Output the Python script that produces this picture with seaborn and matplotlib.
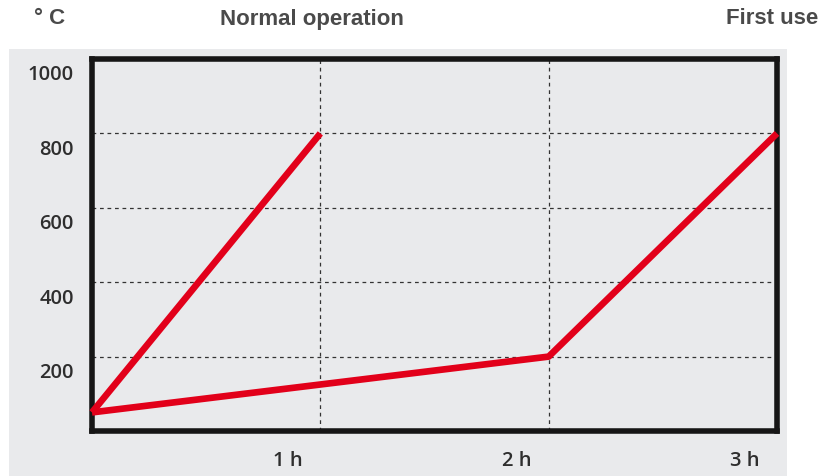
import matplotlib
matplotlib.use("Agg")
import matplotlib.pyplot as plt
import matplotlib.transforms as mtransforms
from matplotlib.patches import Rectangle
import seaborn as sns
import pandas as pd

# Дані
normal_hours = [0, 1]
normal_temp = [50, 800]
first_hours = [0, 2, 3]
first_temp = [50, 200, 800]
y_ticks = [200, 400, 600, 800, 1000]
x_ticks = [1, 2, 3]
x_labels = ["1 h", "2 h", "3 h"]

sns.set_style("white")
plt.rcParams["font.family"] = ["Open Sans", "DejaVu Sans"]

W, H = 825, 477
fig = plt.figure(figsize=(W / 100, H / 100), dpi=100)
fig.patch.set_facecolor("white")

# сіра підкладка
fig.patches.append(Rectangle((9 / W, 0), (787 - 9) / W, (H - 50) / H,
                             transform=fig.transFigure, facecolor="#e9eaec",
                             edgecolor="none", zorder=0))

ax = fig.add_axes([92 / W, (H - 432) / H, (777 - 92) / W, (432 - 60) / H])
ax.set_zorder(2)
ax.set_facecolor("#e9eaec")

normal = pd.DataFrame({"h": normal_hours, "t": normal_temp})
first = pd.DataFrame({"h": first_hours, "t": first_temp})
red = "#e2001a"
sns.lineplot(data=normal, x="h", y="t", color=red, linewidth=4.8, ax=ax,
             clip_on=False, zorder=5, solid_capstyle="butt")
sns.lineplot(data=first, x="h", y="t", color=red, linewidth=4.8, ax=ax,
             clip_on=False, zorder=5, solid_capstyle="butt")

ax.set_xlim(0, 3)
ax.set_ylim(0, 1000)
ax.set_xticks(x_ticks)
ax.set_xticklabels(x_labels)
ax.set_yticks(y_ticks)
ax.set_xlabel("")
ax.set_ylabel("")

ax.grid(True, color="#333333", linestyle=(0, (3, 3)), linewidth=0.9)
ax.set_axisbelow(True)
for s in ax.spines.values():
    s.set_visible(True)
    s.set_color("#161616")
    s.set_linewidth(4)

ax.tick_params(length=0, labelsize=14.5, labelcolor="#2e2e2e")
ax.tick_params(axis="y", pad=13)
ax.tick_params(axis="x", pad=14)
for lab in ax.get_yticklabels() + ax.get_xticklabels():
    lab.set_fontweight("semibold")
for lab in ax.get_yticklabels():
    lab.set_transform(lab.get_transform() +
                      mtransforms.ScaledTranslation(0, -13 / 100, fig.dpi_scale_trans))
for lab in ax.get_xticklabels():
    lab.set_transform(lab.get_transform() +
                      mtransforms.ScaledTranslation(-32 / 100, 0, fig.dpi_scale_trans))

hdr = dict(fontsize=16, fontweight="bold", color="#4a4a4a",
           family=["Liberation Sans", "DejaVu Sans"],
           va="center", transform=fig.transFigure)
fig.text(50 / W, 1 - 19 / H, "° C", ha="center", **hdr)
fig.text(312 / W, 1 - 19 / H, "Normal operation", ha="center", **hdr)
fig.text(818 / W, 1 - 19 / H, "First use", ha="right", **hdr)

fig.savefig("out.png", dpi=100)
